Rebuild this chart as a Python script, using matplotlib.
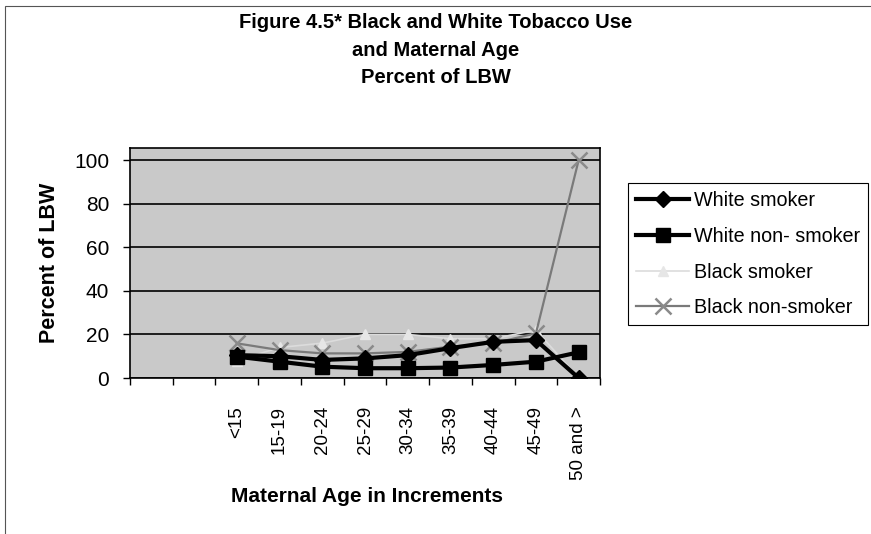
import numpy as np
import matplotlib
matplotlib.use("Agg")
import matplotlib.pyplot as plt
from matplotlib.patches import Rectangle

plt.rcParams['font.family'] = ['Liberation Sans', 'DejaVu Sans']

# Age groups (two blank slots at the start, as in the original chart)
age_groups = ["", "", "<15", "15-19", "20-24", "25-29", "30-34", "35-39",
              "40-44", "45-49", "50 and >"]

nan = np.nan
white_smoker = [nan, nan, 10.5, 10, 8.3, 9, 10.5, 13.7, 16.6, 17.4, 0]
white_nonsmoker = [nan, nan, 9.8, 7.5, 5.2, 4.5, 4.5, 4.8, 6, 7.5, 11.8]
black_smoker = [nan, nan, 8, 14, 16, 20, 20, 18, 18, 22, 0]
black_nonsmoker = [nan, nan, 15.9, 12.8, 11.3, 11.3, 12, 14.4, 15.9, 20.5, 100]

fig = plt.figure(figsize=(8.71, 5.34), dpi=100)
ax = fig.add_axes([0.1493, 0.2921, 0.5396, 0.4307])
ax.set_facecolor("#c9c9c9")

x = np.arange(len(age_groups))

ax.plot(x, black_smoker, color="#dcdcdc", lw=1.2, marker="^", ms=7,
        mfc="#e6e6e6", mec="#e6e6e6", label="Black smoker", zorder=3)
ax.plot(x, black_nonsmoker, color="#7a7a7a", lw=1.6, marker="x", ms=11,
        mew=1.8, mec="#8a8a8a", label="Black non-smoker", zorder=4)
ax.plot(x, white_nonsmoker, color="black", lw=3, marker="s", ms=10,
        label="White non- smoker", zorder=5)
ax.plot(x, white_smoker, color="black", lw=3, marker="D", ms=8,
        label="White smoker", zorder=6)

ax.set_xlim(-0.5, len(age_groups) - 0.5)
ax.set_ylim(0, 105.5)
ax.set_yticks([0, 20, 40, 60, 80, 100])
ax.yaxis.grid(True, color="black", lw=1.2)
ax.set_axisbelow(True)

ax.set_xticks(x)
ax.set_xticklabels(age_groups, rotation=90, fontsize=13.5, va="top")
ax.set_xticks(np.arange(-0.5, len(age_groups), 1), minor=True)
ax.tick_params(axis="x", which="major", length=0, pad=20)
ax.tick_params(axis="x", which="minor", length=5, width=1, direction="out")
ax.tick_params(axis="y", labelsize=15, length=5, width=1, pad=10)

for s in ax.spines.values():
    s.set_color("black")
    s.set_linewidth(1.2)

ax.set_ylabel("Percent of LBW", fontsize=15.5, fontweight="bold", labelpad=10)
fig.text(0.421, 0.06, "Maternal Age in Increments", ha="center",
         fontsize=15, fontweight="bold")

fig.text(0.5, 0.958, "Figure 4.5* Black and White Tobacco Use", ha="center",
         va="center", fontsize=14.5, fontweight="bold")
fig.text(0.5, 0.906, "and Maternal Age", ha="center", va="center",
         fontsize=14.5, fontweight="bold")
fig.text(0.5, 0.854, "Percent of LBW", ha="center", va="center",
         fontsize=14.5, fontweight="bold")

handles, labels = ax.get_legend_handles_labels()
order = [3, 2, 0, 1]
leg = fig.legend([handles[i] for i in order], [labels[i] for i in order],
                 loc="upper left", bbox_to_anchor=(0.721, 0.657),
                 borderaxespad=0, fontsize=14.2, frameon=True, fancybox=False,
                 edgecolor="black", framealpha=1, handlelength=2.7,
                 labelspacing=0.85, borderpad=0.4, handletextpad=0.25)
leg.get_frame().set_linewidth(0.8)

# chart area border (top and left edges)
fig.add_artist(Rectangle((0.006, -0.01), 1.2, 0.998, transform=fig.transFigure,
                         fill=False, edgecolor="#555555", lw=0.8))

fig.savefig("out.png", dpi=100)
